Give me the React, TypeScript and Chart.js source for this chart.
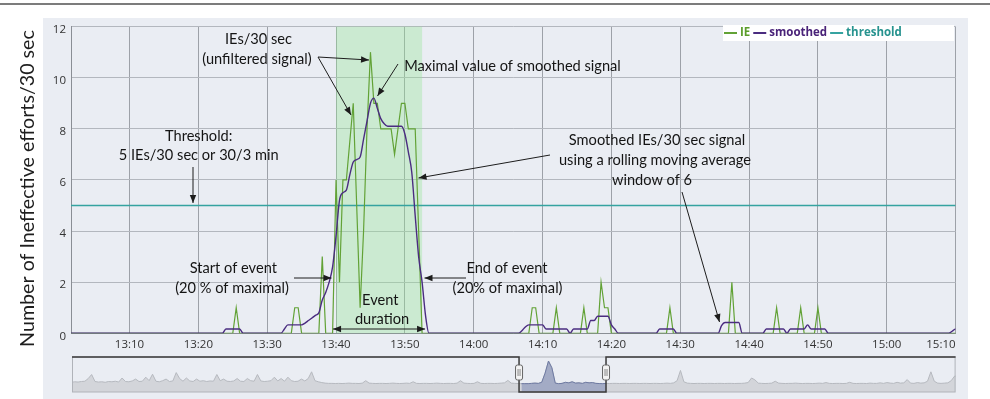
import React, { useEffect, useRef } from 'react';
import { Chart, registerables } from 'chart.js';

Chart.register(...registerables);

// ---------------- data ----------------
const X_MIN = '13:01:30';
const X_MAX = '15:10:00';
const SAMPLE_STEP = 0.5; // minutes (30 s)
const xTickLabels = ['13:10', '13:20', '13:30', '13:40', '13:50', '14:00', '14:10', '14:20', '14:30', '14:40', '14:50', '15:00', '15:10'];
const yTicks = [0, 2, 4, 6, 8, 10, 12];
const THRESHOLD = 5;
const EVENT_START = '13:40:00';
const EVENT_END = '13:52:30';

// non-zero IE samples (IEs / 30 s)
const ieTimes = [
  '13:25:30', '13:34:00', '13:34:30', '13:38:00',
  '13:40:00', '13:40:30', '13:41:00', '13:41:30', '13:42:00', '13:42:30', '13:43:00', '13:43:30',
  '13:44:00', '13:44:30', '13:45:00', '13:45:30', '13:46:00', '13:46:30', '13:47:00', '13:47:30',
  '13:48:00', '13:48:30', '13:49:00', '13:49:30', '13:50:00', '13:50:30', '13:51:00', '13:51:30', '13:52:00',
  '14:08:30', '14:09:00', '14:12:00', '14:16:00', '14:18:30', '14:19:00', '14:19:30',
  '14:28:30', '14:37:30', '14:44:00', '14:47:30', '14:50:00', '15:11:00',
];
const ieValues = [
  1, 1, 1, 3,
  6, 2, 6, 6, 7.5, 9, 5, 1,
  4, 8, 11, 9, 9, 8, 8, 8,
  8, 7, 8, 9, 9, 8, 8, 8, 4,
  1, 1, 1, 1, 2, 1, 1,
  1, 2, 1, 1, 1, 1,
];

// non-zero smoothed samples
const smoothTimes = [
  '13:24:00', '13:24:30', '13:25:00', '13:25:30', '13:26:00',
  '13:32:30', '13:33:00', '13:33:30', '13:34:00', '13:34:30', '13:35:00', '13:35:30', '13:36:00', '13:36:30',
  '13:37:00', '13:37:30', '13:38:00', '13:38:30', '13:39:00', '13:39:30', '13:40:00', '13:40:30', '13:41:00',
  '13:41:30', '13:42:00', '13:42:30', '13:43:00', '13:43:30', '13:44:00', '13:44:30', '13:45:00', '13:45:30',
  '13:46:00', '13:46:30', '13:47:00', '13:47:30', '13:48:00', '13:48:30', '13:49:00', '13:49:30', '13:50:00',
  '13:50:30', '13:51:00', '13:51:30', '13:52:00', '13:52:30', '13:53:00',
  '14:07:00', '14:07:30', '14:08:00', '14:08:30', '14:09:00', '14:09:30', '14:10:00', '14:10:30', '14:11:00',
  '14:11:30', '14:12:00', '14:12:30', '14:13:00', '14:13:30',
  '14:14:30', '14:15:00', '14:15:30', '14:16:00', '14:16:30', '14:17:00', '14:17:30', '14:18:00', '14:18:30',
  '14:19:00', '14:19:30', '14:20:00', '14:20:30',
  '14:27:00', '14:27:30', '14:28:00', '14:28:30', '14:29:00',
  '14:36:00', '14:36:30', '14:37:00', '14:37:30', '14:38:00', '14:38:30',
  '14:42:30', '14:43:00', '14:43:30', '14:44:00', '14:44:30', '14:45:00',
  '14:46:00', '14:46:30', '14:47:00', '14:47:30', '14:48:00', '14:48:30', '14:49:00', '14:49:30', '14:50:00',
  '14:50:30', '14:51:00',
  '15:09:30', '15:10:00', '15:10:30',
];
const smoothValues = [
  0.17, 0.17, 0.17, 0.17, 0.17,
  0.17, 0.33, 0.33, 0.33, 0.33, 0.33, 0.4, 0.5, 0.6,
  0.7, 0.8, 1.3, 1.6, 2.0, 2.6, 3.8, 5.2, 5.5,
  5.6, 6.2, 6.7, 6.8, 6.9, 7.6, 8.3, 9.0, 9.2,
  8.8, 8.4, 8.2, 8.1, 8.1, 8.1, 8.1, 8.1, 7.8,
  7.1, 6.3, 4.6, 3.0, 2.0, 0.7,
  0.1, 0.25, 0.33, 0.33, 0.33, 0.33, 0.33, 0.17, 0.17,
  0.17, 0.17, 0.17, 0.17, 0.17,
  0.17, 0.17, 0.17, 0.17, 0.17, 0.5, 0.5, 0.67, 0.67,
  0.67, 0.67, 0.33, 0.17,
  0.17, 0.17, 0.17, 0.17, 0.17,
  0.3, 0.42, 0.42, 0.42, 0.42, 0.42,
  0.17, 0.17, 0.17, 0.17, 0.17, 0.17,
  0.17, 0.17, 0.17, 0.17, 0.17, 0.33, 0.17, 0.17, 0.17,
  0.17, 0.17,
  0.08, 0.17, 0.17,
];

// navigator overview series (5-min values from 02:00)
const NAV_START = '02:00';
const NAV_STEP = 5;
const NAV_MIN = '02:01:00';
const NAV_MAX = '23:46:30';
const navValues = [
  0.6, 0.8, 0.7, 0.9, 1.0, 2.0, 3.5, 0.9, 0.7, 0.8, 0.6, 0.9,
  0.8, 1.0, 0.7, 2.2, 0.9, 0.8, 1.1, 1.8, 0.9, 1.0, 2.5, 1.2,
  3.6, 1.0, 0.8, 1.2, 1.8, 0.9, 1.1, 4.2, 2.0, 1.0, 2.2, 1.1,
  0.9, 1.8, 1.0, 1.2, 0.9, 1.1, 1.0, 3.5, 1.2, 1.8, 1.0, 0.9,
  1.1, 2.0, 1.0, 0.9, 2.0, 1.2, 1.0, 3.5, 1.1, 0.9, 1.0, 1.2,
  2.5, 1.1, 2.0, 1.0, 2.5, 1.2, 0.9, 1.0, 1.8, 1.1, 2.0, 4.5,
  1.2, 0.8, 0.5, 0.3, 0.2, 0.2, 0.15, 0.2, 0.15, 0.2, 0.3, 0.2,
  0.2, 0.15, 0.3, 1.2, 0.3, 0.2, 0.15, 0.2, 0.2, 0.15, 0.2, 0.3,
  0.2, 0.15, 0.2, 0.3, 0.2, 0.8, 0.2, 0.15, 0.2, 0.2, 0.15, 0.2,
  0.3, 0.2, 0.15, 0.2, 0.2, 0.15, 0.3, 1.2, 0.3, 0.2, 0.15, 0.2,
  0.8, 0.2, 0.15, 0.2, 0.2, 0.15, 0.2, 0.3, 0.4, 1.3, 0.3, 0.2,
  0.15, 0.1, 0.1, 0.1, 0.2, 0.3, 0.2, 0.6, 4.0, 8.5, 6.0, 0.3,
  0.1, 0.2, 0.6, 0.4, 0.8, 0.3, 0.4, 0.2, 0.6, 0.4, 0.5, 0.2,
  0.15, 0.1, 0.2, 0.15, 0.2, 0.2, 0.15, 0.2, 0.2, 0.15, 0.2, 0.2,
  0.15, 0.2, 0.2, 0.15, 0.2, 0.2, 0.15, 0.2, 0.3, 0.2, 0.4, 1.2,
  5.0, 0.8, 0.3, 0.2, 0.15, 0.2, 0.2, 0.15, 0.2, 0.2, 0.15, 0.2,
  0.2, 0.15, 0.2, 0.2, 0.15, 0.2, 0.2, 0.3, 0.5, 2.2, 1.5, 0.3,
  0.2, 0.15, 0.2, 0.3, 1.0, 0.3, 0.2, 0.15, 0.2, 0.2, 0.3, 0.2,
  0.15, 0.2, 0.2, 0.15, 0.2, 0.3, 0.2, 0.5, 0.2, 0.15, 0.2, 0.2,
  0.15, 0.2, 0.6, 0.2, 0.15, 0.2, 0.2, 0.15, 0.3, 0.2, 0.2, 0.4,
  0.2, 0.5, 0.3, 0.2, 0.6, 0.3, 0.4, 1.6, 0.3, 0.2, 0.5, 0.3,
  0.4, 1.0, 4.5, 1.0, 0.3, 0.2, 0.3, 0.4, 1.2, 2.9, 3.0, 3.0,
];

// ---------------- styles / annotation layout ----------------
const GREEN = '#62a236';
const PURPLE = '#4a2c80';
const TEAL = '#35a3a0';
const BG = '#eaedf3';
const TEXT_FONT = 'Lato, "Open Sans", sans-serif';
const TICK_FONT = '"Open Sans", "Noto Sans", sans-serif';

const NOTE_LINES = [
  { text: 'IEs/30 sec', x: 258.5, y: 39.5, w: 63.3 },
  { text: '(unfiltered signal)', x: 257, y: 59, w: 112.3 },
  { text: 'Maximal value of smoothed signal', x: 512.5, y: 66.5, w: 221.6 },
  { text: 'Threshold:', x: 198.7, y: 136, w: 66 },
  { text: '5 IEs/30 sec or 30/3 min', x: 198.7, y: 155.5, w: 156 },
  { text: 'Smoothed IEs/30 sec signal', x: 657, y: 140, w: 175.7 },
  { text: 'using a rolling moving average', x: 655, y: 160.5, w: 193.4 },
  { text: 'window of 6', x: 652, y: 180, w: 81 },
  { text: 'Start of event', x: 233.3, y: 268.3, w: 86.7 },
  { text: '(20 % of maximal)', x: 232, y: 288.3, w: 116 },
  { text: 'End of event', x: 507, y: 268.3, w: 80.6 },
  { text: '(20% of maximal)', x: 507.5, y: 288.3, w: 111.6 },
  { text: 'Event', x: 380.3, y: 300, w: 34 },
  { text: 'duration', x: 382, y: 319.5, w: 54.3 },
];
const NOTE_ARROWS = [
  { from: [318, 57], to: [351, 115] },
  { from: [318, 57], to: [369, 60] },
  { from: [398, 64], to: [377.5, 96] },
  { from: [550, 155], to: [418.5, 178] },
  { from: [682, 192], to: [719.5, 322] },
  { from: [193, 167], to: [193, 203] },
  { from: [294, 278], to: [331.5, 278] },
  { from: [466, 278], to: [424.5, 278] },
];
const DURATION_ARROW = { y: 329, pad: 3 };
const Y_TITLE = { text: 'Number of Ineffective efforts/30 sec', x: 27.5, y: 188.5, w: 317 };
const LEGEND = { x: 723, y: 25, w: 231, h: 16 };
const legendItems = [
  { label: 'IE', color: GREEN, text: '#5c9e2c' },
  { label: 'smoothed', color: PURPLE, text: '#4a2379' },
  { label: 'threshold', color: TEAL, text: '#27938f' },
];

// ---------------- helpers ----------------
const toMin = (s: string) => {
  const p = s.split(':').map(Number);
  return p[0] * 60 + p[1] + (p[2] || 0) / 60;
};

function drawArrow(ctx: CanvasRenderingContext2D, x1: number, y1: number, x2: number, y2: number, both = false) {
  const head = (fx: number, fy: number, tx: number, ty: number) => {
    const a = Math.atan2(ty - fy, tx - fx);
    const L = 8, W = 3.2;
    ctx.beginPath();
    ctx.moveTo(tx, ty);
    ctx.lineTo(tx - L * Math.cos(a) + W * Math.sin(a), ty - L * Math.sin(a) - W * Math.cos(a));
    ctx.lineTo(tx - L * Math.cos(a) - W * Math.sin(a), ty - L * Math.sin(a) + W * Math.cos(a));
    ctx.closePath();
    ctx.fill();
  };
  ctx.beginPath();
  ctx.moveTo(x1, y1);
  ctx.lineTo(x2, y2);
  ctx.stroke();
  head(x1, y1, x2, y2);
  if (both) head(x2, y2, x1, y1);
}

function fitSize(ctx: CanvasRenderingContext2D, items: { text: string; w: number }[], family: string, weight = 'normal') {
  ctx.font = `${weight} 20px ${family}`;
  let m = 0, t = 0;
  for (const it of items) { m += ctx.measureText(it.text).width; t += it.w; }
  return (20 * t) / m;
}

export default function App() {
  const mainRef = useRef<HTMLCanvasElement>(null);
  const navRef = useRef<HTMLCanvasElement>(null);

  useEffect(() => {
    const xMin = toMin(X_MIN);
    const xMax = toMin(X_MAX);
    const grid: number[] = [];
    for (let k = 0; ; k++) {
      const t = xMin + k * SAMPLE_STEP;
      if (t > xMax + 1.01) break;
      grid.push(t);
    }
    const ieMap = new Map<number, number>(ieTimes.map((s, i) => [toMin(s), ieValues[i]]));
    const smMap = new Map<number, number>(smoothTimes.map((s, i) => [toMin(s), smoothValues[i]]));
    const ieData = grid.map((t) => ({ x: t, y: ieMap.get(t) ?? 0 }));
    const smData = grid.map((t) => ({ x: t, y: smMap.get(t) ?? 0 }));
    const labelMap = new Map<number, string>(xTickLabels.map((l) => [toMin(l), l]));

    const annot = {
      id: 'annot',
      beforeDatasetsDraw(chart: any) {
        const { ctx, chartArea, scales } = chart;
        const x0 = scales.x.getPixelForValue(toMin(EVENT_START));
        const x1 = scales.x.getPixelForValue(toMin(EVENT_END));
        ctx.save();
        ctx.fillStyle = 'rgba(150, 230, 150, 0.36)';
        ctx.fillRect(x0, chartArea.top, x1 - x0, chartArea.bottom - chartArea.top);
        ctx.restore();
      },
      afterDatasetsDraw(chart: any) {
        const { ctx, scales } = chart;
        ctx.save();
        const size = fitSize(ctx, NOTE_LINES, TEXT_FONT);
        ctx.font = `${size.toFixed(2)}px ${TEXT_FONT}`;
        ctx.fillStyle = '#141414';
        ctx.textAlign = 'center';
        ctx.textBaseline = 'middle';
        for (const n of NOTE_LINES) ctx.fillText(n.text, n.x, n.y);
        ctx.strokeStyle = '#1c1c1c';
        ctx.fillStyle = '#1c1c1c';
        ctx.lineWidth = 1;
        for (const a of NOTE_ARROWS) drawArrow(ctx, a.from[0], a.from[1], a.to[0], a.to[1]);
        const dx0 = scales.x.getPixelForValue(toMin(EVENT_START)) - DURATION_ARROW.pad;
        const dx1 = scales.x.getPixelForValue(toMin(EVENT_END)) + DURATION_ARROW.pad;
        drawArrow(ctx, dx0, DURATION_ARROW.y, dx1, DURATION_ARROW.y, true);

        const ts = fitSize(ctx, [Y_TITLE], TEXT_FONT);
        ctx.translate(Y_TITLE.x, Y_TITLE.y);
        ctx.rotate(-Math.PI / 2);
        ctx.font = `${ts.toFixed(2)}px ${TEXT_FONT}`;
        ctx.fillStyle = '#1e1e1e';
        ctx.fillText(Y_TITLE.text, 0, 0);
        ctx.restore();

        ctx.save();
        ctx.fillStyle = '#ffffff';
        ctx.fillRect(LEGEND.x, LEGEND.y, LEGEND.w, LEGEND.h);
        ctx.font = `bold 11.5px ${TICK_FONT}`;
        ctx.textBaseline = 'middle';
        ctx.textAlign = 'left';
        let lx = LEGEND.x + 1;
        const ly = LEGEND.y + LEGEND.h / 2;
        for (const it of legendItems) {
          ctx.strokeStyle = it.color;
          ctx.lineWidth = 2;
          ctx.beginPath();
          ctx.moveTo(lx, ly);
          ctx.lineTo(lx + 13, ly);
          ctx.stroke();
          lx += 16;
          ctx.fillStyle = it.text;
          ctx.fillText(it.label, lx, ly);
          lx += ctx.measureText(it.label).width + 3;
        }
        ctx.restore();
      },
    };

    const main = new Chart(mainRef.current as HTMLCanvasElement, {
      type: 'line',
      data: {
        datasets: [
          { label: 'smoothed', data: smData, borderColor: PURPLE, borderWidth: 1.4, pointRadius: 0, cubicInterpolationMode: 'monotone', order: 1 },
          { label: 'IE', data: ieData, borderColor: GREEN, borderWidth: 1.2, pointRadius: 0, tension: 0, order: 2 },
          { label: 'threshold', data: [{ x: xMin, y: THRESHOLD }, { x: xMax, y: THRESHOLD }], borderColor: TEAL, borderWidth: 1.4, pointRadius: 0, order: 3 },
        ] as any,
      },
      options: {
        responsive: false,
        animation: false,
        devicePixelRatio: 1,
        layout: { padding: { left: 0, top: 26.6, right: 34.4, bottom: 45.7 } },
        plugins: { legend: { display: false }, tooltip: { enabled: false } },
        scales: {
          x: {
            type: 'linear',
            min: xMin,
            max: xMax,
            afterBuildTicks: (s: any) => {
              s.ticks = [xMin, ...xTickLabels.map(toMin)].map((v) => ({ value: v }));
            },
            afterFit: (s: any) => { s.height = 20; },
            ticks: {
              align: 'inner',
              padding: 5,
              autoSkip: false,
              maxRotation: 0,
              color: '#333',
              font: { family: TICK_FONT, size: 11.5 },
              callback: (v: any) => labelMap.get(Number(v)) ?? '',
            },
            grid: { color: '#9da1a8', drawTicks: false, lineWidth: 1 },
            border: { color: '#8a8e95' },
          },
          y: {
            min: 0,
            max: 12,
            afterBuildTicks: (s: any) => { s.ticks = yTicks.map((v) => ({ value: v })); },
            afterFit: (s: any) => { s.width = 71; },
            ticks: { padding: 5, labelOffset: 3, color: '#333', font: { family: TICK_FONT, size: 11.5 }, callback: (v: any) => String(v) },
            grid: { color: '#b3b7be', drawTicks: false, lineWidth: 1 },
            border: { color: '#8a8e95' },
          },
        },
      } as any,
      plugins: [annot],
    });

    // ---------- navigator ----------
    const navStart = toMin(NAV_START);
    const navData = navValues.map((v, i) => ({ x: navStart + i * NAV_STEP, y: v }));
    const winData = navData.filter((p) => p.x >= xMin && p.x <= xMax);

    const navPlugin = {
      id: 'navOutline',
      afterDraw(chart: any) {
        const { ctx, chartArea: a, scales } = chart;
        const w0 = scales.x.getPixelForValue(xMin);
        const w1 = scales.x.getPixelForValue(xMax);
        ctx.save();
        ctx.strokeStyle = '#b0b3b9';
        ctx.lineWidth = 1;
        ctx.strokeRect(a.left + 0.5, a.top, a.right - a.left - 1, a.bottom - a.top);
        ctx.strokeStyle = '#3a3a3a';
        ctx.lineWidth = 1.5;
        ctx.beginPath();
        ctx.moveTo(a.left, a.top);
        ctx.lineTo(w0, a.top);
        ctx.lineTo(w0, a.bottom);
        ctx.lineTo(w1, a.bottom);
        ctx.lineTo(w1, a.top);
        ctx.lineTo(a.right, a.top);
        ctx.stroke();
        for (const hx of [w0, w1]) {
          const hw = 7, hh = 15, hy = a.top + 8;
          ctx.fillStyle = '#f3f3f3';
          ctx.strokeStyle = '#666';
          ctx.lineWidth = 1;
          ctx.beginPath();
          (ctx as any).roundRect(hx - hw / 2, hy, hw, hh, 2);
          ctx.fill();
          ctx.stroke();
          ctx.beginPath();
          ctx.moveTo(hx - 1, hy + 4); ctx.lineTo(hx - 1, hy + hh - 4);
          ctx.moveTo(hx + 1, hy + 4); ctx.lineTo(hx + 1, hy + hh - 4);
          ctx.strokeStyle = '#888';
          ctx.stroke();
        }
        ctx.restore();
      },
    };

    const nav = new Chart(navRef.current as HTMLCanvasElement, {
      type: 'line',
      data: {
        datasets: [
          { data: navData, borderColor: '#b6b9bf', borderWidth: 1, backgroundColor: '#d3d5da', fill: 'start', pointRadius: 0, tension: 0, order: 2 },
          { data: winData, borderColor: '#6e7aa2', borderWidth: 1, backgroundColor: '#a3abc5', fill: 'start', pointRadius: 0, tension: 0, order: 1 },
        ] as any,
      },
      options: {
        responsive: false,
        animation: false,
        devicePixelRatio: 1,
        layout: { padding: { left: 72, right: 34.4, top: 7, bottom: 7 } },
        plugins: { legend: { display: false }, tooltip: { enabled: false } },
        scales: {
          x: { type: 'linear', display: false, min: toMin(NAV_MIN), max: toMin(NAV_MAX) },
          y: { display: false, min: -3, max: 10 },
        },
      } as any,
      plugins: [navPlugin],
    });

    return () => {
      main.destroy();
      nav.destroy();
    };
  }, []);

  return (
    <div style={{ position: 'fixed', left: 0, top: 0, width: 990, height: 399, background: '#fff', overflow: 'hidden' }}>
      <div style={{ position: 'absolute', left: 0, top: 3, width: 990, height: 1.5, background: '#7c7c7c' }} />
      <div style={{ position: 'absolute', left: 43, top: 18, width: 925, height: 381, background: BG }} />
      <canvas ref={mainRef} width={990} height={399} style={{ position: 'absolute', left: 0, top: 0 }} />
      <canvas ref={navRef} width={990} height={49} style={{ position: 'absolute', left: 0, top: 350 }} />
    </div>
  );
}
